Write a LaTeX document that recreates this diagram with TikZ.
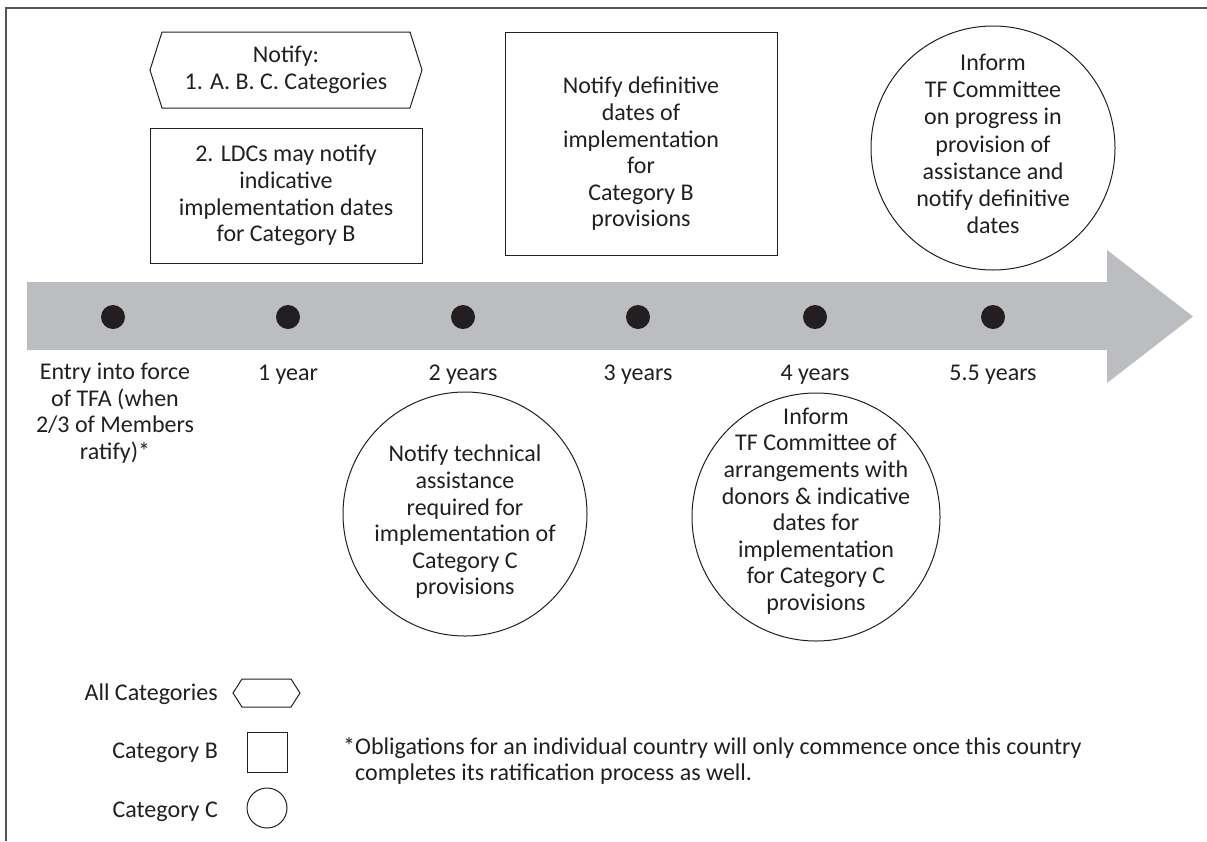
\documentclass[tikz,border=0pt]{standalone}
\usepackage{fontspec}
\setmainfont{Carlito}
\usetikzlibrary{calc}
\definecolor{ink}{HTML}{231F20}
\definecolor{band}{HTML}{BCBDC0}
\definecolor{framec}{HTML}{555555}
\begin{document}
\begin{tikzpicture}[x=1pt,y=-1pt,
  every node/.style={text=ink, inner sep=0pt},
  txt/.style={font=\fontsize{24}{26.6}\selectfont, align=center},
  foot/.style={font=\fontsize{24}{26.6}\selectfont, align=left},
  outline/.style={draw=ink, line width=1pt},
  catB/.style={outline, rectangle, minimum width=272pt, minimum height=135pt},
  catC/.style={outline, circle, minimum size=244pt},
  dot/.style={circle, fill=ink, minimum size=24pt}]
\useasboundingbox (0,0) rectangle (1207,841);
% frame
\draw[framec, line width=1.5pt] (1207,8) -- (6,8) -- (6,841);
% timeline arrow
\fill[band] (27,282) -- (1107,282) -- (1107,250) -- (1193,316.5) -- (1107,383) -- (1107,350) -- (27,350) -- cycle;
% dots
\node[dot] (d0) at (113,317) {};
\node[dot] (d1) at (288,317) {};
\node[dot] (d2) at (463,317) {};
\node[dot] (d3) at (638,317) {};
\node[dot] (d4) at (815,317) {};
\node[dot] (d5) at (993,317) {};
% labels under the timeline
\node[txt, anchor=north] (l0) at (115,363) {Entry into force\\of TFA (when\\2/3 of Members\\ratify)*};
\node[txt, anchor=base] (l1) at (288,380) {1 year};
\node[txt, anchor=base] (l2) at (463,380) {2 years};
\node[txt, anchor=base] (l3) at (638,380) {3 years};
\node[txt, anchor=base] (l4) at (815,380) {4 years};
\node[txt, anchor=base] (l5) at (993,380) {5.5 years};
% all categories (hexagon)
\node[txt] (hex) at (286,70) {Notify:\\1. A. B. C. Categories};
\draw[outline] ($(hex.center)+(-136,0)$) -- ($(hex.center)+(-124,-38)$) -- ($(hex.center)+(124,-38)$)
  -- ($(hex.center)+(136,0)$) -- ($(hex.center)+(124,38)$) -- ($(hex.center)+(-124,38)$) -- cycle;
% category B boxes
\node[catB, txt] (b1) at (286,195.5) {2. LDCs may notify\\indicative\\implementation dates\\for Category B};
\node[catB, minimum height=223pt] (b2) at (641,143.5) {};
\node[txt] (b2t) at (641,154) {Notify definitive\\dates of\\implementation\\for\\Category B\\provisions};
% category C circles
\node[catC] (c1) at (465,514) {};
\node[txt] (c1t) at (465,522) {Notify technical\\assistance\\required for\\implementation of\\Category C\\provisions};
\node[catC, minimum size=248pt] (c2) at (816,517) {};
\node[txt] (c2t) at (816,511) {Inform\\TF Committee of\\arrangements with\\donors \& indicative\\dates for\\implementation\\for Category C\\provisions};
\node[catC] (c3) at (993,148) {};
\node[txt, font=\fontsize{24}{27.2}\selectfont] (c3t) at (993,144) {Inform\\TF Committee\\on progress in\\provision of\\assistance and\\notify definitive\\dates};
% legend
\node[txt, anchor=base east] (lgA) at (218,700) {All Categories};
\coordinate (hA) at (266.5,693);
\draw[outline] ($(hA)+(-33.5,0)$) -- ($(hA)+(-24.5,-14)$) -- ($(hA)+(24.5,-14)$) -- ($(hA)+(33.5,0)$)
  -- ($(hA)+(24.5,14)$) -- ($(hA)+(-24.5,14)$) -- cycle;
\node[txt, anchor=base east] (lgB) at (218,758) {Category B};
\node[outline, rectangle, minimum size=40pt] (sqB) at (267,752) {};
\node[txt, anchor=base east] (lgC) at (218,817) {Category C};
\node[outline, circle, minimum size=40pt] (ciC) at (267,808) {};
% footnote
\node[foot, anchor=north west] (fn) at (343,737) {*Obligations for an individual country will only commence once this country\\\phantom{*}completes its ratification process as well.};
\end{tikzpicture}
\end{document}
